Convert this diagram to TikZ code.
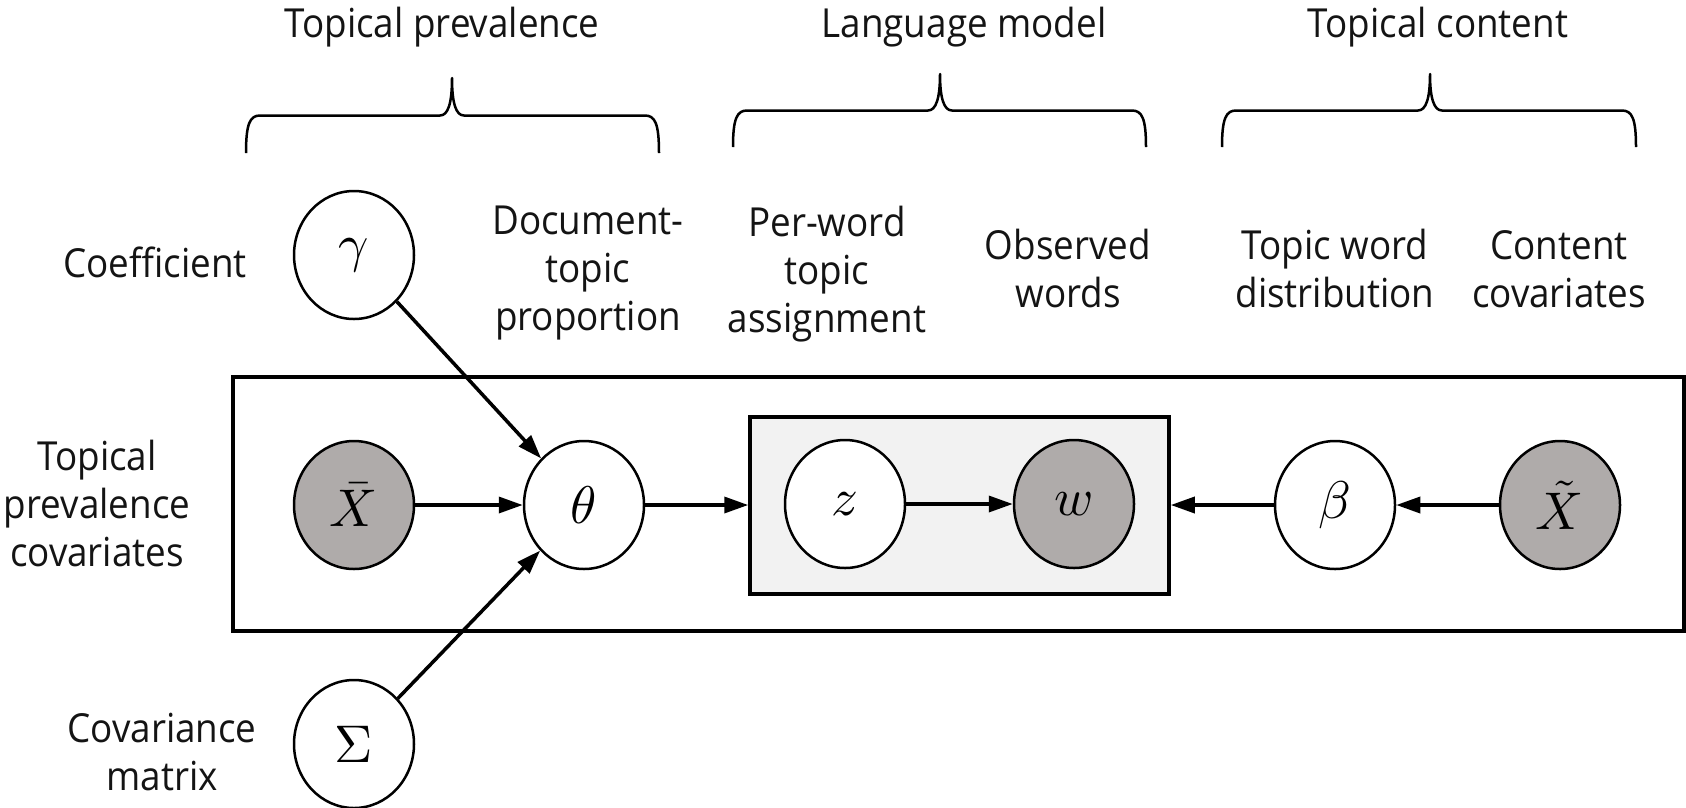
\documentclass[tikz,border=0pt]{standalone}
\usepackage{graphicx}
\usepackage{fontspec}
\setmainfont{Open Sans}[FakeStretch=0.92]
\usetikzlibrary{shapes.geometric,arrows.meta}
\definecolor{obsgray}{RGB}{175,171,170}
\definecolor{platefill}{RGB}{242,242,242}
\definecolor{txt}{RGB}{20,20,20}
\newcommand{\mth}[1]{\scalebox{5.3}{$#1$}}
\newcommand{\curlybrace}[5]{%
 \draw[bracepath] (#1,#5) .. controls (#1,{(#4+#5)/2+8}) and (#1+4,{(#4+#5)/2}) .. (#1+14,{(#4+#5)/2})
  -- (#2-12,{(#4+#5)/2}) .. controls (#2-4,{(#4+#5)/2}) and (#2,{(#4+#5)/2-12}) .. (#2,#4)
  .. controls (#2,{(#4+#5)/2-12}) and (#2+4,{(#4+#5)/2}) .. (#2+12,{(#4+#5)/2})
  -- (#3-14,{(#4+#5)/2}) .. controls (#3-4,{(#4+#5)/2}) and (#3,{(#4+#5)/2+8}) .. (#3,#5);}
\tikzset{
  lbl/.style={font=\fontsize{40}{48}\selectfont, text=txt, align=center, inner sep=0pt, anchor=base},
  latnode/.style={ellipse, draw, line width=2.5pt, fill=white, minimum width=120pt, minimum height=128pt, inner sep=0pt},
  obsnode/.style={latnode, fill=obsgray},
  plate/.style={rectangle, draw, line width=3.5pt, inner sep=0pt},
  edge/.style={line width=3.5pt, -{Triangle[length=24pt,width=16pt]}},
  bracepath/.style={line width=2.5pt, line join=round}
}
\begin{document}
\begin{tikzpicture}[x=1pt,y=-1pt]
\useasboundingbox (0,0) rectangle (1686,807);
% titles and braces
\node[lbl] (tp) at (442,37) {Topical prevalence};
\node[lbl] (lm) at (964,37) {Language model};
\node[lbl] (tc) at (1438,37) {Topical content};
\curlybrace{246}{452}{659}{78}{153}
\curlybrace{733}{940}{1146}{74}{147}
\curlybrace{1222}{1430}{1636}{74}{147}
% labels (anchor base = last line)
\node[lbl] (coef) at (155,277) {Coefficient};
\node[lbl] (dtp) at (588,330) {Document-\\topic\\proportion};
\node[lbl] (pwt) at (827,332) {Per-word\\topic\\assignment};
\node[lbl] (ow) at (1068,307) {Observed\\words};
\node[lbl] (twd) at (1335,307) {Topic word\\distribution};
\node[lbl] (cc) at (1559,307) {Content\\covariates};
\node[lbl] (tpc) at (97,566) {Topical\\prevalence\\covariates};
\node[lbl] (cm) at (162,790) {Covariance\\matrix};
% plates
\node[plate, minimum width=1451pt, minimum height=254pt] (outer) at (958.5,504) {};
\node[plate, fill=platefill, minimum width=419pt, minimum height=177pt] (inner) at (959.5,505.5) {};
% variables
\node[latnode] (g) at (354,255) {\mth{\gamma}};
\node[obsnode] (xbar) at (354,505) {\mth{\bar{X}}};
\node[latnode] (th) at (584,505) {\mth{\theta}};
\node[latnode] (z) at (845,504) {\mth{z}};
\node[obsnode] (w) at (1074,504) {\mth{w}};
\node[latnode] (b) at (1335,505) {\mth{\beta}};
\node[obsnode] (xt) at (1560,505) {\mth{\tilde{X}}};
\node[latnode] (S) at (354,744) {\mth{\Sigma}};
% edges
\draw[edge] (g) -- (th);
\draw[edge] (xbar) -- (th);
\draw[edge] (S) -- (th);
\draw[edge] (th) -- (th -| inner.west);
\draw[edge] (z) -- (w);
\draw[edge] (b) -- (b -| inner.east);
\draw[edge] (xt) -- (b);
\end{tikzpicture}
\end{document}
